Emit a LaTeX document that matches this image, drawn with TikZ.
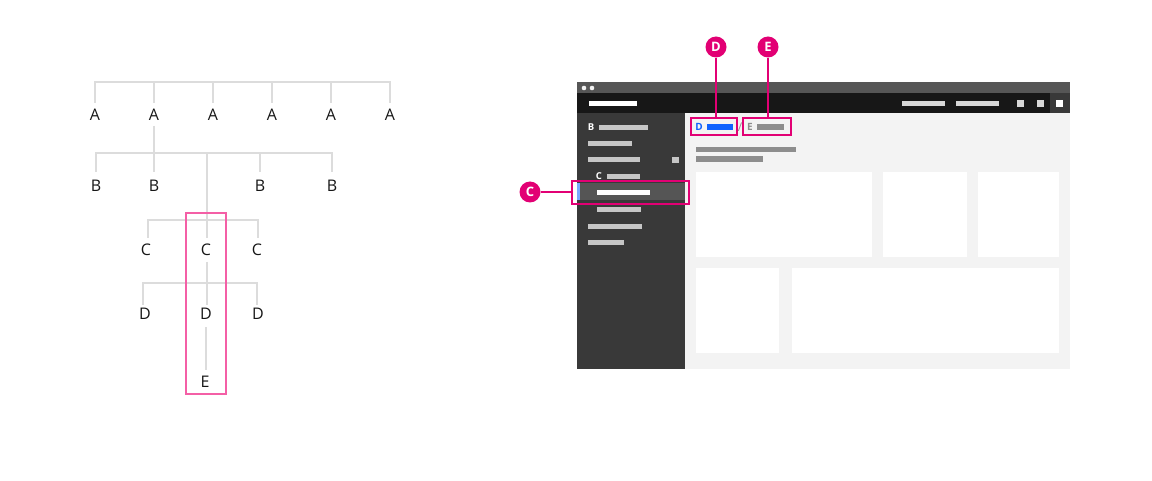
\documentclass[tikz,border=0pt]{standalone}
\usepackage{fontspec}
\setmainfont{Open Sans}
\definecolor{treegray}{HTML}{DCDCDC}
\definecolor{labelcol}{HTML}{161616}
\definecolor{pinkbox}{HTML}{F45FA6}
\definecolor{magenta}{HTML}{E20074}
\definecolor{titlebar}{HTML}{565656}
\definecolor{headerbar}{HTML}{171717}
\definecolor{sidebar}{HTML}{393939}
\definecolor{selrow}{HTML}{555555}
\definecolor{content}{HTML}{F3F3F3}
\definecolor{lightbar}{HTML}{C6C6C6}
\definecolor{midbar}{HTML}{8D8D8D}
\definecolor{bluebar}{HTML}{0F62FE}
\definecolor{bluestrip}{HTML}{78A9FF}
\tikzset{
  treeline/.style={draw=treegray, line width=2.4pt},
  lbl/.style={inner sep=0pt, text=labelcol, font=\fontsize{16}{16}\selectfont},
  callout/.style={circle, fill=magenta, text=white, inner sep=0pt, minimum size=21pt, font=\fontsize{13}{13}\selectfont\bfseries},
  calloutline/.style={draw=magenta, line width=1.6pt},
  calloutbox/.style={draw=magenta, line width=2pt},
  sidetxt/.style={inner sep=0pt, text=white, font=\fontsize{9.5}{9.5}\selectfont\bfseries},
}
\begin{document}
\begin{tikzpicture}[x=1pt,y=-1pt]
\useasboundingbox (0,0) rectangle (1152,481);
\fill[white] (0,0) rectangle (1152,481);

% ---------- tree ----------
\draw[treeline] (95,103) -- (95,82) -- (390,82) -- (390,103);
\foreach \x in {154,213,272,331} \draw[treeline] (\x,82) -- (\x,103);
\foreach \x/\n in {95/1,154/2,213/3,272/4,331/5,390/6}
  \node[lbl] (A\n) at (\x,115) {A};

\draw[treeline] (154,126) -- (154,153);
\draw[treeline] (96,172) -- (96,153) -- (332,153) -- (332,172);
\foreach \x in {154,260} \draw[treeline] (\x,153) -- (\x,172);
\draw[treeline] (207,153) -- (207,238);
\foreach \x/\n in {96/1,154/2,260/3,332/4}
  \node[lbl] (B\n) at (\x,186) {B};

\draw[treeline] (148,238) -- (148,220) -- (258,220) -- (258,238);
\foreach \x/\n in {146/1,206/2,257/3}
  \node[lbl] (C\n) at (\x,250) {C};

\draw[treeline] (207,262) -- (207,305);
\draw[treeline] (143,305) -- (143,283) -- (257,283) -- (257,305);
\foreach \x/\n in {145/1,206/2,258/3}
  \node[lbl] (D\n) at (\x,314) {D};

\draw[treeline] (206,327) -- (206,370);
\node[lbl] (E1) at (205,382) {E};

\draw[draw=pinkbox, line width=2pt] (186,213) rectangle (226,394);

% ---------- browser window ----------
\fill[titlebar] (577,82) rectangle (1070,93);
\fill[white!90!gray] (584,88) circle (2.3);
\fill[white!90!gray] (592,88) circle (2.3);
\fill[headerbar] (577,93) rectangle (1070,113);
\fill[white] (589,101) rectangle (637,106);
\fill[lightbar!70!white] (902,101) rectangle (945,106);
\fill[lightbar!70!white] (956,101) rectangle (999,106);
\fill[lightbar!70!white] (1017,100) rectangle (1024,107);
\fill[lightbar!70!white] (1037,100) rectangle (1044,107);
\fill[sidebar] (1050,93) rectangle (1070,113);
\fill[white] (1056,100) rectangle (1063,107);

% sidebar
\fill[sidebar] (577,113) rectangle (685,369);
\node[sidetxt] (sbB) at (591,127) {B};
\fill[lightbar] (599,125) rectangle (648,130);
\fill[lightbar] (588,141) rectangle (632,146);
\fill[lightbar] (588,157) rectangle (640,162);
\fill[lightbar] (672,157) rectangle (679,163);
\node[sidetxt] (sbC) at (599,176) {C};
\fill[lightbar] (607,174) rectangle (640,179);
\fill[selrow] (577,183) rectangle (685,200);
\fill[bluestrip] (577,183) rectangle (580,200);
\fill[white] (597,190) rectangle (650,195);
\fill[lightbar] (597,207) rectangle (641,212);
\fill[lightbar] (588,224) rectangle (642,229);
\fill[lightbar] (588,240) rectangle (624,245);

% content
\fill[content] (685,113) rectangle (1070,369);
\fill[midbar] (696,147) rectangle (796,152);
\fill[midbar] (696,156) rectangle (763,162);
\fill[white] (696,172) rectangle (872,257);
\fill[white] (883,172) rectangle (967,257);
\fill[white] (978,172) rectangle (1059,257);
\fill[white] (696,268) rectangle (779,353);
\fill[white] (792,268) rectangle (1059,353);

% breadcrumb
\node[inner sep=0pt, text=bluebar, font=\fontsize{10}{10}\selectfont\bfseries] (bcD) at (699,127) {D};
\fill[bluebar] (707,124) rectangle (733,130);
\node[inner sep=0pt, text=midbar, font=\fontsize{12}{12}\selectfont] (slash) at (740,127) {/};
\node[inner sep=0pt, text=midbar, font=\fontsize{10}{10}\selectfont\bfseries] (bcE) at (750,127) {E};
\fill[midbar] (757,124) rectangle (784,130);

% callout boxes
\node[calloutbox, minimum width=46pt, minimum height=17pt, inner sep=0pt] (boxD) at (714,126.5) {};
\node[calloutbox, minimum width=48pt, minimum height=17pt, inner sep=0pt] (boxE) at (767,126.5) {};
\node[calloutbox, minimum width=117pt, minimum height=23pt, inner sep=0pt] (boxC) at (630.5,192.5) {};

% callouts
\node[callout] (cD) at (716,47) {D};
\node[callout] (cE) at (768,47) {E};
\node[callout] (cC) at (530,192) {C};
\draw[calloutline] (cD.south) -- (cD.south |- boxD.north);
\draw[calloutline] (cE.south) -- (cE.south |- boxE.north);
\draw[calloutline] (cC.east) -- (cC.east -| boxC.west);
\end{tikzpicture}
\end{document}
